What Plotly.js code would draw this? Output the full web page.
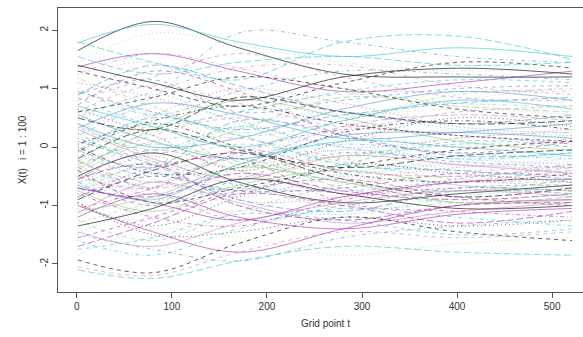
<!DOCTYPE html>
<html>
<head>
<meta charset="utf-8">
<script src="https://cdn.plot.ly/plotly-3.0.1.min.js"></script>
<style>html,body{margin:0;padding:0;overflow:hidden;background:#fff;width:583px;height:337px;}#plot{width:600px;height:337px;}</style>
</head>
<body>
<div id="plot"></div>
<script>
// grid points at which each curve's value was read
const gridT = [1, 80, 170, 280, 400, 521];

// curve values X_i(t) read at gridT, i = 1..100
const curves = [
[1.65, 2.15, 1.70, 1.25, 1.20, 1.20],
[0.80, 1.20, 1.60, 1.20, 0.85, 0.80],
[1.45, 1.95, 1.75, 1.45, 1.30, 1.40],
[0.20, 0.85, 1.95, 1.80, 1.55, 1.45],
[1.80, 1.45, 1.15, 1.80, 1.90, 1.50],
[1.37, 1.60, 1.30, 0.95, 1.10, 1.30],
[1.30, 1.00, 0.70, 1.10, 1.45, 1.35],
[1.23, 1.45, 0.90, 0.55, 0.80, 1.05],
[1.18, 0.70, 0.20, 0.45, 0.90, 0.95],
[0.89, 1.40, 1.05, 0.60, 0.40, 0.55],
[1.78, 2.10, 1.80, 1.55, 1.70, 1.55],
[0.72, 1.30, 0.95, 0.20, -0.10, 0.10],
[0.65, 0.20, -0.40, 0.10, 0.50, 0.35],
[0.52, 0.95, 1.35, 1.40, 1.05, 0.90],
[0.40, -0.10, 0.30, 0.85, 0.70, 0.60],
[0.32, 0.75, 0.55, 0.15, 0.25, 0.40],
[0.24, -0.40, -0.75, -0.30, 0.10, 0.00],
[0.03, 0.55, 1.00, 0.75, 0.35, 0.25],
[-0.08, 0.40, 0.00, -0.45, -0.60, -0.45],
[-0.22, -0.70, -0.30, 0.35, 0.55, 0.45],
[-0.40, 0.30, 0.80, 0.50, 0.10, -0.05],
[-0.60, -1.00, -0.55, -0.10, -0.25, -0.35],
[-0.70, -0.20, 0.35, 0.60, 0.30, 0.20],
[-0.80, -1.20, -1.35, -0.90, -0.70, -0.75],
[-0.90, -0.40, -0.10, -0.55, -0.85, -0.70],
[-1.13, -0.60, -0.95, -1.30, -1.10, -0.95],
[-1.25, -1.60, -1.10, -0.65, -0.50, -0.60],
[-1.47, -0.95, -0.35, -0.05, -0.20, -0.30],
[-1.60, -1.85, -1.40, -1.05, -1.20, -1.35],
[-1.70, -1.30, -0.80, -1.00, -1.30, -1.10],
[-0.50, -0.10, -0.60, -0.95, -0.80, -0.65],
[-2.05, -2.20, -1.80, -1.45, -1.55, -1.45],
[-1.85, -1.40, -1.55, -1.85, -1.65, -1.55],
[-1.50, -1.75, -1.95, -1.55, -1.35, -1.25],
[-2.10, -2.25, -1.95, -1.70, -1.80, -1.85],
[-1.00, -1.45, -1.80, -1.40, -1.00, -0.90],
[-1.93, -2.15, -1.65, -1.20, -1.45, -1.60],
[-0.30, -0.85, -1.10, -0.60, -0.35, -0.20],
[-0.15, 0.25, 0.60, 0.90, 0.75, 0.70],
[0.10, -0.30, -0.90, -1.10, -0.75, -0.80],
[-0.65, -0.90, -0.30, 0.10, 0.00, -0.15],
[-0.85, -0.50, -0.75, -0.70, -0.45, -0.50],
[-0.95, -1.35, -0.85, -0.30, -0.45, -0.60],
[-0.45, 0.10, 0.15, -0.20, -0.40, -0.30],
[-0.25, -0.60, -0.20, -0.70, -0.95, -0.85],
[0.55, 0.10, -0.20, 0.20, 0.25, 0.15],
[0.85, 0.40, 0.60, 0.95, 1.15, 1.10],
[1.10, 0.85, 0.45, 0.00, 0.15, 0.30],
[0.00, -0.45, -0.35, 0.25, 0.45, 0.30],
[-0.55, -0.05, -0.40, -0.80, -0.60, -0.40],
[-0.75, -1.10, -0.65, -0.40, -0.65, -0.75],
[-0.35, -0.75, -1.25, -1.00, -0.70, -0.65],
[0.45, 0.90, 0.40, -0.10, 0.05, 0.20],
[-1.05, -0.70, -0.10, 0.30, 0.20, 0.05],
[-0.20, 0.30, -0.05, -0.35, -0.15, -0.05],
[0.30, -0.20, -0.55, -0.15, -0.30, -0.45],
[-0.60, -0.30, 0.05, -0.25, -0.55, -0.60],
[-0.90, -0.60, -1.00, -1.15, -0.85, -0.70],
[-0.10, -0.50, -0.15, 0.05, -0.10, -0.20],
[-0.70, -0.85, -0.45, -0.75, -0.90, -0.80],
[-1.35, -1.05, -0.55, -0.80, -1.05, -1.00],
[0.60, 1.05, 0.75, 0.35, 0.60, 0.70],
[0.15, 0.55, 0.25, 0.50, 0.65, 0.55],
[1.00, 0.55, 0.95, 1.30, 1.25, 1.15],
[1.55, 1.25, 1.45, 1.55, 1.40, 1.45],
[-1.20, -0.80, -1.20, -1.40, -1.15, -1.05],
[-0.40, -0.95, -0.70, -0.35, -0.05, 0.10],
[0.25, 0.65, -0.05, -0.50, -0.35, -0.25],
[-0.80, -0.25, -0.50, -0.20, 0.15, 0.25],
[-0.05, -0.35, 0.45, 0.20, -0.15, -0.10],
[0.70, 0.35, 0.00, 0.45, 0.80, 0.65],
[-1.55, -1.20, -0.75, -0.55, -0.85, -1.00],
[-0.95, -1.50, -1.45, -1.20, -1.35, -1.25],
[1.25, 1.60, 1.35, 1.00, 0.95, 1.00],
[-0.30, 0.05, -0.25, -0.60, -0.75, -0.55],
[0.40, 0.00, 0.15, 0.65, 0.95, 0.80],
[-1.75, -1.55, -1.15, -1.25, -1.50, -1.40],
[-0.65, -0.15, -0.90, -0.85, -0.60, -0.70],
[0.05, 0.45, 0.70, 0.40, 0.20, 0.10],
[-0.50, -0.70, -0.05, -0.40, -0.50, -0.35],
[-1.10, -0.85, -0.35, -0.60, -0.95, -0.90],
[0.90, 1.15, 0.60, 0.80, 1.00, 1.05],
[-0.15, -0.55, -0.85, -0.45, -0.25, -0.15],
[-0.85, -0.35, -0.20, -0.95, -1.10, -1.20],
[0.50, 0.30, 0.85, 0.60, 0.40, 0.45],
[-1.45, -1.70, -1.30, -0.95, -0.75, -0.85],
[-0.25, 0.35, -0.30, -0.15, 0.05, 0.00],
[-0.75, -0.45, -0.80, -0.50, -0.30, -0.45],
[0.35, -0.05, 0.35, 0.00, -0.20, -0.10],
[-0.55, -0.30, -1.00, -1.25, -1.00, -0.95],
[1.40, 1.10, 0.80, 1.20, 1.35, 1.25],
[-0.35, 0.20, 0.50, 0.25, 0.00, 0.15],
[-1.00, -1.25, -0.60, -0.15, -0.40, -0.50],
[0.15, -0.25, -0.65, -0.75, -0.55, -0.30],
[-0.05, 0.50, 0.20, -0.30, -0.40, -0.55],
[-0.70, -0.95, -1.25, -0.85, -0.60, -0.55],
[0.60, 0.85, 1.20, 1.00, 0.65, 0.50],
[-0.45, -0.80, -0.40, -0.05, -0.30, -0.35],
[-1.30, -0.95, -0.70, -1.05, -0.95, -0.80],
[0.95, 0.60, 0.30, 0.55, 0.75, 0.85]
];

const xTickVals = [0, 100, 200, 300, 400, 500];
const yTickVals = [-2, -1, 0, 1, 2];

const palette = ['rgba(30,30,30,0.7)', 'rgba(200,110,170,0.5)', 'rgba(120,190,110,0.5)',
                 'rgba(60,140,200,0.55)', 'rgba(50,195,210,0.6)', 'rgba(165,40,165,0.6)'];
const dashes = ['solid', '4px,4px', '1px,3px', '1px,3px,4px,3px', '7px,3px'];

const traces = curves.map((ys, i) => ({
  x: gridT, y: ys, type: 'scatter', mode: 'lines', hoverinfo: 'skip',
  line: {shape: 'spline', smoothing: 1.0, width: 1, color: palette[i % 6], dash: dashes[i % 5]}
}));

const fontFam = 'Liberation Sans, Arial, sans-serif';
const axisCommon = {
  showline: true, mirror: true, linecolor: '#555', linewidth: 1,
  ticks: 'outside', ticklen: 5, tickcolor: '#555', tickwidth: 1,
  showgrid: false, zeroline: false,
  tickfont: {family: fontFam, size: 10, color: '#333'}
};

const layout = {
  width: 600, height: 337,
  margin: {l: 58, r: 7, t: 8, b: 45},
  paper_bgcolor: '#fff', plot_bgcolor: '#fff',
  showlegend: false,
  xaxis: Object.assign({}, axisCommon, {
    range: [-19.8, 543], tickvals: xTickVals, ticktext: xTickVals.map(String),
    title: {text: 'Grid point t', font: {family: fontFam, size: 10, color: '#333'}, standoff: 8}
  }),
  yaxis: Object.assign({}, axisCommon, {
    range: [-2.48, 2.38], tickvals: yTickVals, ticktext: yTickVals.map(String), tickangle: -90,
    title: {text: 'X(t)   i = 1 : 100', font: {family: fontFam, size: 10, color: '#333'}, standoff: 10}
  })
};

Plotly.newPlot('plot', traces, layout, {displayModeBar: false, staticPlot: true});
</script>
</body>
</html>
